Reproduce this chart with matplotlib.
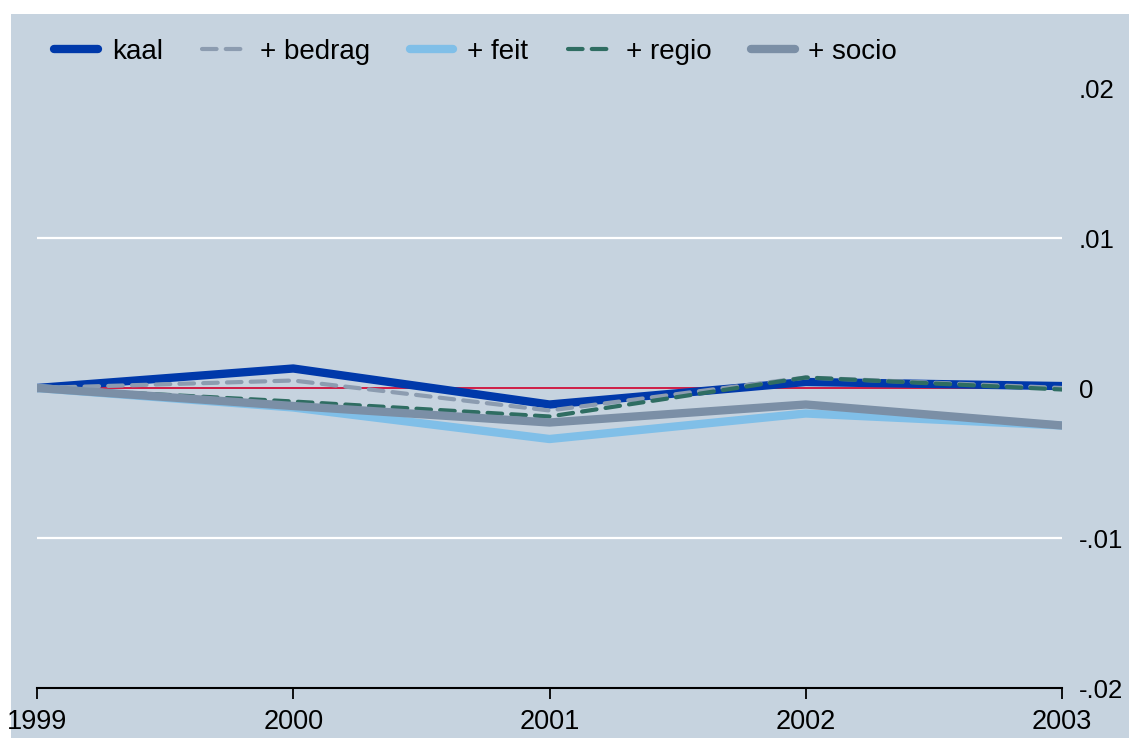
import matplotlib
matplotlib.use("Agg")
import matplotlib.pyplot as plt
from matplotlib.patches import Rectangle

years = [1999, 2000, 2001, 2002, 2003]
kaal = [0.0, 0.0013, -0.0011, 0.0004, 0.00013]
bedrag = [0.0, 0.0005, -0.0015, 0.0007, 0.0]
feit = [0.0, -0.0013, -0.0034, -0.0017, -0.0025]
regio = [0.0, -0.0009, -0.0019, 0.0007, -0.0001]
socio = [0.0, -0.0012, -0.0023, -0.0011, -0.0025]
ytick_vals = [-0.02, -0.01, 0.0, 0.01, 0.02]
ytick_labels = ["-.02", "-.01", "0", ".01", ".02"]

BG = "#c6d3df"
plt.rcParams['font.family'] = ['Liberation Sans', 'DejaVu Sans']

fig = plt.figure(figsize=(11.29, 7.38), dpi=100, facecolor="white")
W, H = 1129, 738
bgrect = Rectangle((11 / W, 0), 1 - 11 / W, 1 - 14 / H,
                   transform=fig.transFigure, facecolor=BG,
                   edgecolor="none", zorder=-10)
fig.add_artist(bgrect)

ax = fig.add_axes([37 / W, 50 / H, (1062 - 37) / W, (688 - 88) / H])
ax.set_zorder(5)
ax.patch.set_visible(False)

ax.set_xlim(1999, 2003)
ax.set_ylim(-0.02, 0.02)

for v in [-0.01, 0.01]:
    ax.axhline(v, color="white", lw=1.6, zorder=1)
ax.plot([years[0], years[-1]], [0, 0], color="#d0103a", lw=1.3, zorder=1.5)

kw = dict(solid_capstyle="round", dash_capstyle="round", solid_joinstyle="round")
ax.plot(years, kaal, color="#0039aa", lw=6, label="kaal", zorder=2, **kw)
ax.plot(years, bedrag, color="#8c9cb0", lw=3, dashes=(3.5, 2.2), label="+ bedrag", zorder=3, **kw)
ax.plot(years, feit, color="#80bfe8", lw=6, label="+ feit", zorder=4, **kw)
ax.plot(years, regio, color="#2f6d62", lw=3, dashes=(3.5, 2.2), label="+ regio", zorder=5, **kw)
ax.plot(years, socio, color="#7b8fa6", lw=6, label="+ socio", zorder=6, **kw)

for s in ["top", "left", "right"]:
    ax.spines[s].set_visible(False)
ax.spines["bottom"].set_linewidth(1.5)
ax.spines["bottom"].set_color("black")

ax.set_xticks(years)
ax.set_xticklabels([str(y) for y in years], fontsize=19.5)
ax.tick_params(axis="x", length=8, width=1.3, pad=7, direction="out")

ax.yaxis.tick_right()
ax.set_yticks(ytick_vals)
ax.set_yticklabels(ytick_labels, fontsize=18.5)
ax.tick_params(axis="y", length=0, pad=12)
for lab in ax.get_yticklabels():
    lab.set_horizontalalignment("left")

leg = ax.legend(loc="center left", bbox_to_anchor=(54 / W, (738 - 52) / H),
                bbox_transform=fig.transFigure, ncol=5, frameon=False,
                fontsize=20, handlelength=1.58, handletextpad=0.5,
                columnspacing=1.42, borderaxespad=0, borderpad=0)
fig.savefig("out.png", dpi=100, facecolor="white")
